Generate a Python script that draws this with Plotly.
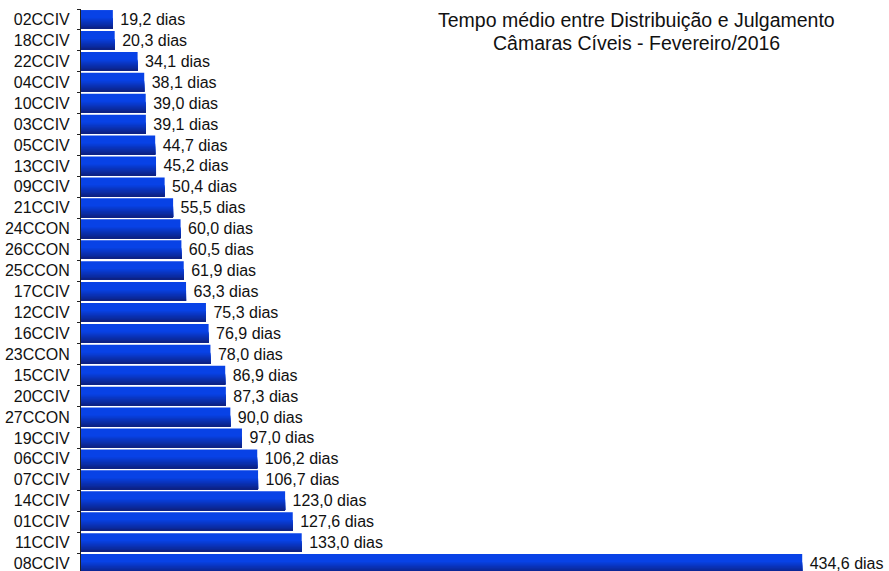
import plotly.graph_objects as go

categories = ["02CCIV", "18CCIV", "22CCIV", "04CCIV", "10CCIV", "03CCIV", "05CCIV",
              "13CCIV", "09CCIV", "21CCIV", "24CCON", "26CCON", "25CCON", "17CCIV",
              "12CCIV", "16CCIV", "23CCON", "15CCIV", "20CCIV", "27CCON", "19CCIV",
              "06CCIV", "07CCIV", "14CCIV", "01CCIV", "11CCIV", "08CCIV"]
values = [19.2, 20.3, 34.1, 38.1, 39.0, 39.1, 44.7, 45.2, 50.4, 55.5, 60.0, 60.5,
          61.9, 63.3, 75.3, 76.9, 78.0, 86.9, 87.3, 90.0, 97.0, 106.2, 106.7, 123.0,
          127.6, 133.0, 434.6]
title_lines = ["Tempo médio entre Distribuição e Julgamento",
               "Câmaras Cíveis - Fevereiro/2016"]

labels = [" " + f"{v:.1f}".replace(".", ",") + " dias" for v in values]

FONT = "Liberation Sans, Arial, sans-serif"
BAR_W = 0.9
top_col = (8, 66, 230)
bot_col = (12, 34, 135)

fig = go.Figure()
fig.add_trace(go.Bar(
    y=categories, x=values, orientation="h",
    width=BAR_W, offset=-BAR_W / 2,
    marker=dict(color="rgb(%d,%d,%d)" % top_col, line=dict(width=0)),
    text=labels, textposition="outside", cliponaxis=False,
    constraintext="none",
    textfont=dict(family=FONT, size=16, color="#111111"),
    hoverinfo="skip", showlegend=False,
))
n_bands = 10
start = 0.42
for k in range(n_bands):
    f0 = start + (1 - start) * k / n_bands
    t = (k + 1) / n_bands
    c = tuple(round(top_col[i] + (bot_col[i] - top_col[i]) * t) for i in range(3))
    fig.add_trace(go.Bar(
        y=categories, x=values, orientation="h",
        width=BAR_W * (1 - f0), offset=-BAR_W / 2 + BAR_W * f0,
        marker=dict(color="rgb(%d,%d,%d)" % c, line=dict(width=0)),
        hoverinfo="skip", showlegend=False,
    ))

for line, yp in zip(title_lines, [0.9804, 0.9403]):
    fig.add_annotation(
        text=line, xref="paper", yref="paper",
        x=0.687, y=yp, xanchor="center", yanchor="middle", showarrow=False,
        font=dict(family=FONT, size=19.5, color="#111111"),
    )

fig.update_layout(
    template="none",
    width=889, height=571,
    margin=dict(l=81, r=0, t=9, b=0, pad=0, autoexpand=False),
    barmode="overlay",
    plot_bgcolor="white", paper_bgcolor="white",
    font=dict(family=FONT, size=16, color="#111111"),
    xaxis=dict(range=[0, 486.9], visible=False, fixedrange=True, automargin=False),
    yaxis=dict(
        type="category", range=[26.36, -0.5], automargin=False,
        showline=True, linecolor="#222222", linewidth=1,
        ticks="outside", tickson="boundaries", ticklen=3, tickcolor="#222222",
        ticklabelstandoff=7,
        showgrid=False, zeroline=False, fixedrange=True,
        tickfont=dict(family=FONT, size=16, color="#111111"),
    ),
)

fig.write_html("out.html", config={"displayModeBar": False},
               post_script="document.body.style.margin='0';document.body.style.overflow='hidden';")
